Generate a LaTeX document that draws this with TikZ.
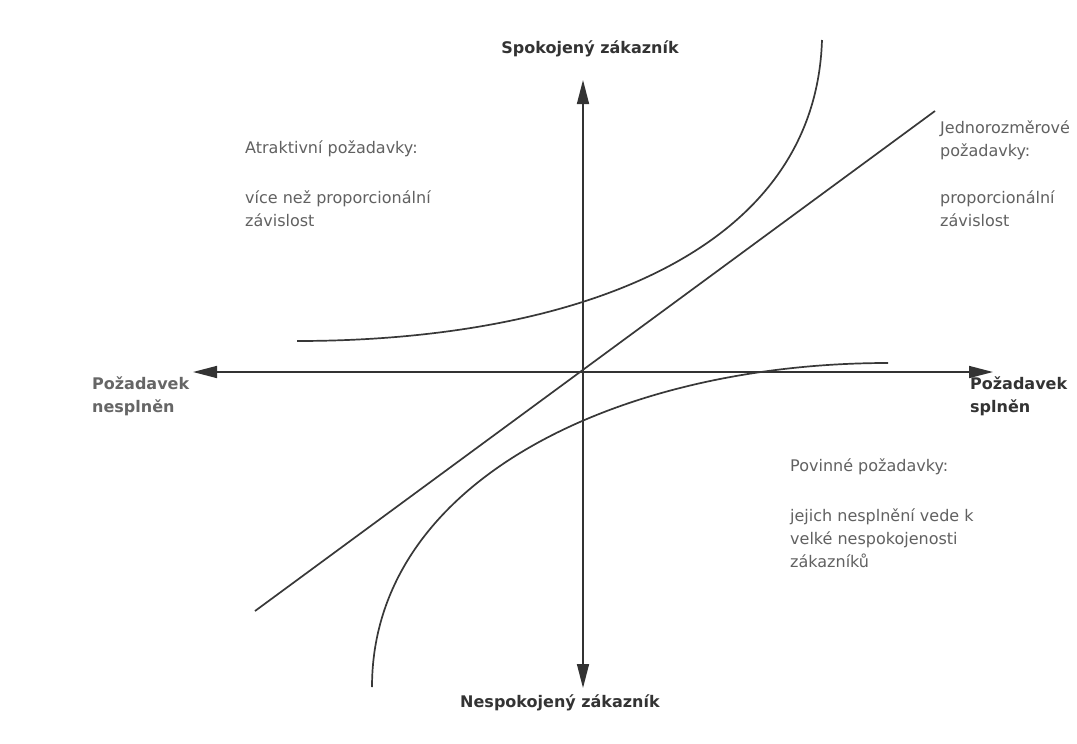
\documentclass[tikz,border=0pt]{standalone}
\usepackage{fontspec}
\setmainfont{DejaVu Sans}
\usetikzlibrary{arrows.meta}
\begin{document}
\begin{tikzpicture}[x=1pt,y=-1pt,
  ax/.style={draw=black!80, line width=1.5pt, {Triangle[length=24pt,width=12pt]}-{Triangle[length=24pt,width=12pt]}},
  crv/.style={draw=black!78, line width=1.7pt},
  txt/.style={anchor=base west, inner sep=0pt, text=black!62, font=\fontsize{16}{19}\selectfont},
  ttl/.style={anchor=base, inner sep=0pt, text=black!80, font=\fontsize{16}{19}\selectfont\bfseries},
  lbl/.style={anchor=base west, inner sep=0pt, text=black!80, font=\fontsize{16}{19}\selectfont\bfseries},
  lbll/.style={lbl, text=black!60}]
\useasboundingbox (0,0) rectangle (1077,744);
\fill[white] (0,0) rectangle (1077,744);

% axes
\coordinate (top) at (583,80);
\coordinate (bot) at (583,688);
\coordinate (lft) at (193,372);
\coordinate (rgt) at (993,372);
\draw[ax] (bot) -- (top);
\draw[ax] (lft) -- (rgt);

% diagonal (one-dimensional requirements)
\coordinate (d1) at (255,611);
\coordinate (d2) at (935,111);
\draw[crv] (d1) -- (d2);

% attractive requirements curve
\coordinate (a1) at (297,341);
\coordinate (a2) at (822,40);
\draw[crv] (a1) .. controls (560,341) and (815,260) .. (a2);

% must-be requirements curve
\coordinate (m1) at (888,363);
\coordinate (m2) at (372,687);
\draw[crv] (m1) .. controls (620,363) and (372,480) .. (m2);

% axis titles
\node[ttl] (sat) at (590,53) {Spokojený zákazník};
\node[ttl] (dis) at (560,707) {Nespokojený zákazník};
\node[lbll] (nf1) at (92,389) {Požadavek};
\node[lbll] (nf2) at (92,412) {nesplněn};
\node[lbl] (f1) at (970,389) {Požadavek};
\node[lbl] (f2) at (970,412) {splněn};

% attractive
\node[txt] (at1) at (245,153) {Atraktivní požadavky:};
\node[txt] (at2) at (245,203) {více než proporcionální};
\node[txt] (at3) at (245,226) {závislost};

% one-dimensional
\node[txt] (od1) at (940,133) {Jednorozměrové};
\node[txt] (od2) at (940,156) {požadavky:};
\node[txt] (od3) at (940,203) {proporcionální};
\node[txt] (od4) at (940,226) {závislost};

% must-be
\node[txt] (mb1) at (790,471) {Povinné požadavky:};
\node[txt] (mb2) at (790,521) {jejich nesplnění vede k};
\node[txt] (mb3) at (790,544) {velké nespokojenosti};
\node[txt] (mb4) at (790,567) {zákazníků};
\end{tikzpicture}
\end{document}
